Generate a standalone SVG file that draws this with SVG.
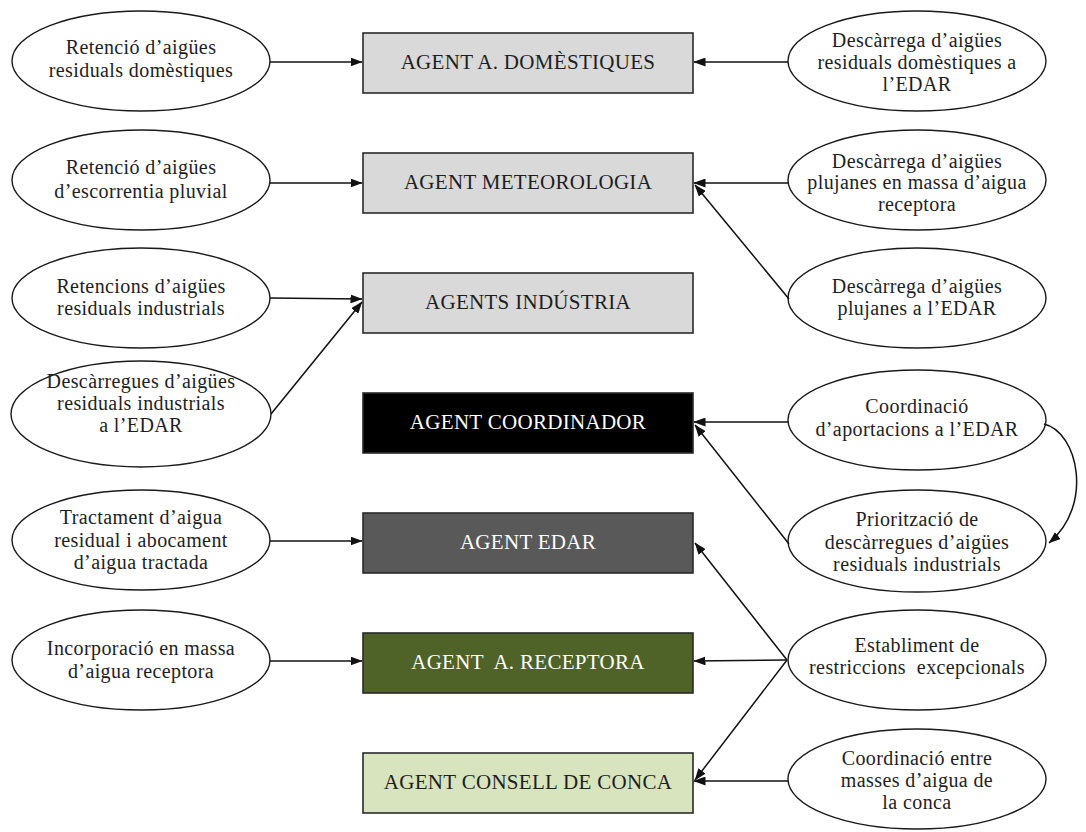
<svg xmlns="http://www.w3.org/2000/svg" width="1086" height="832" viewBox="0 0 1086 832">
  <style>
    .bg { fill: #ffffff; }
    .act { fill: #ffffff; stroke: #1a1a1a; stroke-width: 1.4; }
    .agent { stroke: #2a2a2a; stroke-width: 1.6; }
    .gray { fill: #d9d9d9; }
    .black { fill: #000000; }
    .dark { fill: #595959; }
    .olive { fill: #4f6228; }
    .pale { fill: #d7e4bd; }
    text { font-family: "Liberation Serif", "Times New Roman", serif; font-size: 20px; text-anchor: middle; fill: #1e1e1e; letter-spacing: 0.4px; white-space: pre; }
    .label { font-size: 21px; letter-spacing: 0.3px; }
    .light { fill: #ffffff; }
    .conn line, .conn path { stroke: #111111; stroke-width: 1.5; fill: none; marker-end: url(#head); }
  </style>
  <defs>
    <marker id="head" markerUnits="userSpaceOnUse" markerWidth="12" markerHeight="9" refX="11.5" refY="4.5" orient="auto">
      <path d="M0,0 L12,4.5 L0,9 Z" fill="#111111"/>
    </marker>
  </defs>

  <rect class="bg" x="0" y="0" width="1086" height="832"/>

  <!-- agents -->
  <g id="agent-domestiques">
    <rect class="agent gray" x="363" y="33" width="330" height="60"/>
    <text class="label" x="528" y="69">AGENT A. DOMÈSTIQUES</text>
  </g>
  <g id="agent-meteorologia">
    <rect class="agent gray" x="363" y="153" width="330" height="60"/>
    <text class="label" x="528" y="189">AGENT METEOROLOGIA</text>
  </g>
  <g id="agents-industria">
    <rect class="agent gray" x="363" y="273" width="330" height="60"/>
    <text class="label" x="528" y="309">AGENTS INDÚSTRIA</text>
  </g>
  <g id="agent-coordinador">
    <rect class="agent black" x="363" y="393" width="330" height="60"/>
    <text class="label light" x="528" y="429">AGENT COORDINADOR</text>
  </g>
  <g id="agent-edar">
    <rect class="agent dark" x="363" y="513" width="330" height="60"/>
    <text class="label light" x="528" y="549">AGENT EDAR</text>
  </g>
  <g id="agent-receptora">
    <rect class="agent olive" x="363" y="633" width="330" height="60"/>
    <text class="label light" x="528" y="669">AGENT  A. RECEPTORA</text>
  </g>
  <g id="agent-consell">
    <rect class="agent pale" x="363" y="753" width="330" height="60"/>
    <text class="label" x="528" y="789">AGENT CONSELL DE CONCA</text>
  </g>

  <!-- left-hand activities -->
  <g id="act-retencio-domestiques">
    <ellipse class="act" cx="141" cy="61" rx="129" ry="50"/>
    <text x="141" y="54">Retenció d’aigües</text>
    <text x="141" y="77">residuals domèstiques</text>
  </g>
  <g id="act-retencio-pluvial">
    <ellipse class="act" cx="141" cy="180" rx="129" ry="50"/>
    <text x="141" y="174">Retenció d’aigües</text>
    <text x="141" y="198">d’escorrentia pluvial</text>
  </g>
  <g id="act-retencions-industrials">
    <ellipse class="act" cx="141" cy="298" rx="129" ry="50"/>
    <text x="141" y="293">Retencions d’aigües</text>
    <text x="141" y="315">residuals industrials</text>
  </g>
  <g id="act-descarregues-industrials">
    <ellipse class="act" cx="141" cy="414" rx="130" ry="53"/>
    <text x="141" y="388">Descàrregues d’aigües</text>
    <text x="141" y="410">residuals industrials</text>
    <text x="141" y="432">a l’EDAR</text>
  </g>
  <g id="act-tractament">
    <ellipse class="act" cx="141" cy="540" rx="129" ry="50"/>
    <text x="141" y="524">Tractament d’aigua</text>
    <text x="141" y="547">residual i abocament</text>
    <text x="141" y="569">d’aigua tractada</text>
  </g>
  <g id="act-incorporacio">
    <ellipse class="act" cx="141" cy="660" rx="129" ry="50"/>
    <text x="141" y="655">Incorporació en massa</text>
    <text x="141" y="678">d’aigua receptora</text>
  </g>

  <!-- right-hand activities -->
  <g id="act-descarrega-domestiques">
    <ellipse class="act" cx="917" cy="61" rx="129" ry="50"/>
    <text x="917" y="47">Descàrrega d’aigües</text>
    <text x="917" y="69">residuals domèstiques a</text>
    <text x="917" y="91">l’EDAR</text>
  </g>
  <g id="act-descarrega-plujanes-massa">
    <ellipse class="act" cx="917" cy="180" rx="129" ry="50"/>
    <text x="917" y="168">Descàrrega d’aigües</text>
    <text x="917" y="189">plujanes en massa d’aigua</text>
    <text x="917" y="211">receptora</text>
  </g>
  <g id="act-descarrega-plujanes-edar">
    <ellipse class="act" cx="917" cy="298" rx="129" ry="50"/>
    <text x="917" y="293">Descàrrega d’aigües</text>
    <text x="917" y="315">plujanes a l’EDAR</text>
  </g>
  <g id="act-coordinacio-aportacions">
    <ellipse class="act" cx="917" cy="420" rx="129" ry="50"/>
    <text x="917" y="413">Coordinació</text>
    <text x="917" y="436">d’aportacions a l’EDAR</text>
  </g>
  <g id="act-prioritzacio">
    <ellipse class="act" cx="917" cy="541" rx="129" ry="51"/>
    <text x="917" y="526">Priorització de</text>
    <text x="917" y="549">descàrregues d’aigües</text>
    <text x="917" y="571">residuals industrials</text>
  </g>
  <g id="act-restriccions">
    <ellipse class="act" cx="917" cy="660" rx="129" ry="50"/>
    <text x="917" y="652">Establiment de</text>
    <text x="917" y="674">restriccions  excepcionals</text>
  </g>
  <g id="act-coordinacio-masses">
    <ellipse class="act" cx="917" cy="779" rx="129" ry="50"/>
    <text x="917" y="765">Coordinació entre</text>
    <text x="917" y="787">masses d’aigua de</text>
    <text x="917" y="809">la conca</text>
  </g>

  <!-- connectors -->
  <g id="connectors" class="conn">
    <line x1="270" y1="62" x2="362" y2="62"/>
    <line x1="270" y1="183" x2="362" y2="183"/>
    <line x1="270" y1="298" x2="362" y2="299"/>
    <line x1="271" y1="414" x2="362" y2="302"/>
    <line x1="270" y1="541" x2="362" y2="541"/>
    <line x1="270" y1="661" x2="362" y2="661"/>

    <line x1="788" y1="62" x2="694" y2="62"/>
    <line x1="788" y1="183" x2="694" y2="183"/>
    <line x1="789" y1="299" x2="695" y2="185"/>
    <line x1="788" y1="422" x2="694" y2="422"/>
    <line x1="789" y1="544" x2="695" y2="425"/>
    <line x1="787" y1="660" x2="695" y2="543"/>
    <line x1="787" y1="660" x2="694" y2="661"/>
    <line x1="787" y1="660" x2="695" y2="780"/>
    <line x1="788" y1="781" x2="694" y2="781"/>
    <path d="M1044,424 C1078,432 1094,505 1049,543"/>
  </g>
</svg>
